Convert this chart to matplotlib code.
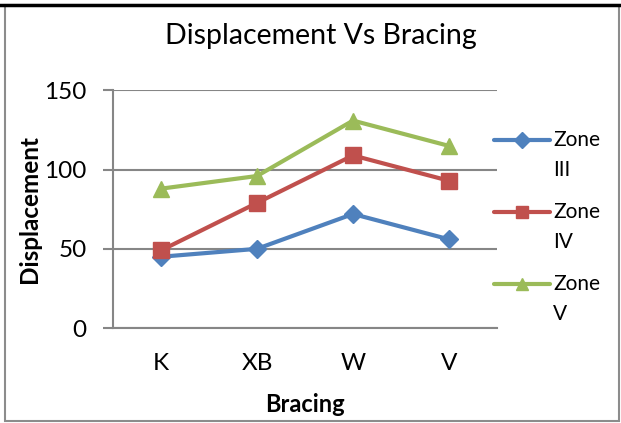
import matplotlib
matplotlib.use("Agg")
import matplotlib.pyplot as plt
from matplotlib.lines import Line2D
from matplotlib.patches import Rectangle

categories = ["K", "XB", "W", "V"]
zone3 = [45, 50, 72, 56]
zone4 = [49, 79, 109, 93]
zone5 = [88, 96, 131, 115]
series_names = ["Zone\nIII", "Zone\nIV", "Zone\nV"]
yticks = [0, 50, 100, 150]

plt.rcParams['font.family'] = ['Lato', 'DejaVu Sans']

W, H = 621, 423
fig = plt.figure(figsize=(W/100, H/100), dpi=100)

def fx(px):
    return px / W

def fy(py):
    return 1 - py / H

# frame
fig.add_artist(Rectangle((fx(5), fy(421)), fx(614), (416)/H, transform=fig.transFigure,
                         fill=False, edgecolor='#8c8c8c', linewidth=1.5))
fig.add_artist(Line2D([0, 1], [fy(5), fy(5)], transform=fig.transFigure, color='black', linewidth=2.5))

left, right, top, bottom = 113, 497, 90.5, 328
ax = fig.add_axes([fx(left), fy(bottom), (right-left)/W, (bottom-top)/H])

x = list(range(len(categories)))
colors = ['#4F81BD', '#C0504D', '#9BBB59']
markers = ['D', 's', '^']
msizes = [9, 11, 11]
for vals, c, m, ms, name in zip([zone3, zone4, zone5], colors, markers, msizes, series_names):
    ax.plot(x, vals, color=c, marker=m, markersize=ms, linewidth=3, label=name, zorder=3)

ax.set_xlim(-0.5, len(categories) - 0.5)
ax.set_ylim(0, 150)
ax.set_yticks(yticks)
ax.set_xticks(x)
ax.set_xticklabels(categories)
ax.yaxis.grid(True, color='#868686', linewidth=1.5)
ax.set_axisbelow(True)
for s in ['top', 'right']:
    ax.spines[s].set_visible(False)
for s in ['left', 'bottom']:
    ax.spines[s].set_color('#868686')
    ax.spines[s].set_linewidth(1.5)
ax.tick_params(axis='y', length=7, width=1.5, color='#868686', labelsize=17.5, pad=12)
ax.tick_params(axis='x', length=0, labelsize=17.5, pad=18)

ax.set_xlabel("Bracing", fontsize=17, fontweight='bold', labelpad=14)
ax.set_ylabel("Displacement", fontsize=17.5, fontweight='bold', labelpad=2)

fig.text(fx(321), fy(36), "Displacement Vs Bracing", ha='center', va='center', fontsize=20.5)

# legend drawn manually (Excel style: handle aligned with first text line)
leg_y = [140, 212, 284]
for (c, m, name, ly) in zip(colors, markers, series_names, leg_y):
    fig.add_artist(Line2D([fx(494), fx(550)], [fy(ly), fy(ly)], transform=fig.transFigure,
                          color=c, linewidth=3, solid_capstyle='round'))
    fig.add_artist(Line2D([fx(522)], [fy(ly)], transform=fig.transFigure, color=c,
                          marker=m, markersize=8 if m == 'D' else 9, linestyle='none'))
    first, second = name.split("\n")
    fig.text(fx(553), fy(ly), first, ha='left', va='center', fontsize=15)
    fig.text(fx(553), fy(ly + 30), second, ha='left', va='center', fontsize=15)

fig.savefig("out.png", dpi=100)
